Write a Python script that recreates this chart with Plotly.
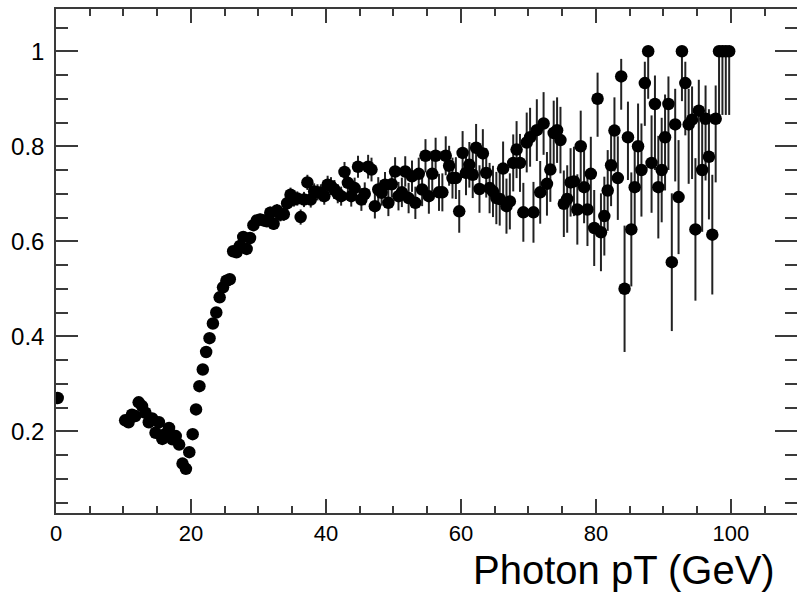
import plotly.graph_objects as go

# Efficiency vs photon pT, 0.5 GeV bins
first_bin_centre = 0.25
first_bin_value = 0.27
first_bin_err = 0.01

bin_start = 10.25
bin_width = 0.5

eff = [
    0.223, 0.219, 0.235, 0.232, 0.261, 0.253, 0.239, 0.219, 0.227, 0.197,   # 10-15
    0.219, 0.184, 0.195, 0.207, 0.183, 0.190, 0.172, 0.132, 0.121, 0.156,   # 15-20
    0.194, 0.246, 0.295, 0.330, 0.367, 0.396, 0.427, 0.450, 0.482, 0.503,   # 20-25
    0.517, 0.520, 0.579, 0.577, 0.590, 0.609, 0.584, 0.607, 0.634, 0.644,   # 25-30
    0.646, 0.644, 0.642, 0.660, 0.637, 0.665, 0.656, 0.657, 0.680, 0.698,   # 30-35
    0.688, 0.690, 0.651, 0.688, 0.724, 0.688, 0.705, 0.703, 0.702, 0.695,   # 35-40
    0.719, 0.716, 0.709, 0.700, 0.695, 0.746, 0.723, 0.695, 0.712, 0.757,   # 40-45
    0.688, 0.700, 0.757, 0.751, 0.674, 0.709, 0.702, 0.719, 0.681, 0.720,   # 45-50
    0.747, 0.695, 0.703, 0.747, 0.691, 0.737, 0.681, 0.742, 0.709, 0.780,   # 50-55
    0.695, 0.742, 0.780, 0.703, 0.703, 0.780, 0.759, 0.733, 0.733, 0.663,   # 55-60
    0.786, 0.744, 0.761, 0.740, 0.797, 0.710, 0.785, 0.744, 0.712, 0.705,   # 60-65
    0.691, 0.689, 0.753, 0.674, 0.684, 0.765, 0.793, 0.765, 0.661, 0.808,   # 65-70
    0.819, 0.661, 0.834, 0.703, 0.848, 0.721, 0.751, 0.828, 0.834, 0.813,   # 70-75
    0.679, 0.689, 0.724, 0.726, 0.667, 0.800, 0.714, 0.667, 0.742, 0.628,   # 75-80
    0.900, 0.619, 0.653, 0.707, 0.760, 0.833, 0.733, 0.947, 0.500, 0.819,   # 80-85
    0.625, 0.714, 0.800, 0.750, 0.933, 1.000, 0.765, 0.889, 0.714, 0.750,   # 85-90
    0.819, 0.889, 0.556, 0.846, 0.693, 1.000, 0.933, 0.846, 0.856, 0.625,   # 90-95
    0.875, 0.750, 0.858, 0.778, 0.614, 0.858, 1.000, 1.000, 1.000, 1.000,   # 95-100
]

err_down = [
    0.008, 0.008, 0.008, 0.008, 0.008, 0.008, 0.008, 0.008, 0.008, 0.008,
    0.008, 0.008, 0.008, 0.008, 0.008, 0.008, 0.008, 0.008, 0.008, 0.008,
    0.008, 0.008, 0.008, 0.008, 0.008, 0.008, 0.008, 0.008, 0.008, 0.009,
    0.009, 0.009, 0.009, 0.009, 0.010, 0.010, 0.010, 0.010, 0.011, 0.011,
    0.012, 0.012, 0.012, 0.013, 0.013, 0.013, 0.014, 0.014, 0.014, 0.015,
    0.015, 0.015, 0.016, 0.016, 0.016, 0.017, 0.017, 0.017, 0.018, 0.018,
    0.019, 0.019, 0.020, 0.020, 0.020, 0.021, 0.021, 0.022, 0.022, 0.023,
    0.024, 0.024, 0.025, 0.025, 0.026, 0.026, 0.027, 0.027, 0.028, 0.028,
    0.030, 0.030, 0.031, 0.032, 0.032, 0.033, 0.034, 0.034, 0.035, 0.035,
    0.037, 0.037, 0.038, 0.039, 0.040, 0.041, 0.042, 0.043, 0.044, 0.045,
    0.046, 0.047, 0.048, 0.049, 0.050, 0.050, 0.051, 0.052, 0.053, 0.054,
    0.055, 0.056, 0.057, 0.058, 0.059, 0.060, 0.060, 0.061, 0.062, 0.063,
    0.062, 0.064, 0.065, 0.066, 0.066, 0.067, 0.068, 0.068, 0.069, 0.070,
    0.070, 0.071, 0.072, 0.073, 0.074, 0.075, 0.076, 0.077, 0.078, 0.080,
    0.080, 0.082, 0.083, 0.085, 0.086, 0.086, 0.088, 0.070, 0.133, 0.090,
    0.120, 0.095, 0.096, 0.098, 0.090, 0.100, 0.105, 0.139, 0.108, 0.110,
    0.112, 0.139, 0.145, 0.120, 0.120, 0.105, 0.110, 0.125, 0.125, 0.150,
    0.128, 0.130, 0.130, 0.132, 0.126, 0.134, 0.134, 0.134, 0.134, 0.134,
]

err_up = [
    0.008, 0.008, 0.008, 0.008, 0.008, 0.008, 0.008, 0.008, 0.008, 0.008,
    0.008, 0.008, 0.008, 0.008, 0.008, 0.008, 0.008, 0.008, 0.008, 0.008,
    0.008, 0.008, 0.008, 0.008, 0.008, 0.008, 0.008, 0.008, 0.008, 0.009,
    0.009, 0.009, 0.009, 0.009, 0.010, 0.010, 0.010, 0.010, 0.011, 0.011,
    0.012, 0.012, 0.012, 0.013, 0.013, 0.013, 0.014, 0.014, 0.014, 0.015,
    0.015, 0.015, 0.016, 0.016, 0.016, 0.017, 0.017, 0.017, 0.018, 0.018,
    0.019, 0.019, 0.020, 0.020, 0.020, 0.021, 0.021, 0.022, 0.022, 0.023,
    0.024, 0.024, 0.025, 0.025, 0.026, 0.026, 0.027, 0.027, 0.028, 0.028,
    0.030, 0.030, 0.031, 0.032, 0.032, 0.033, 0.034, 0.034, 0.035, 0.035,
    0.037, 0.037, 0.038, 0.039, 0.040, 0.041, 0.042, 0.043, 0.044, 0.045,
    0.046, 0.047, 0.048, 0.049, 0.050, 0.050, 0.051, 0.052, 0.053, 0.054,
    0.055, 0.056, 0.057, 0.058, 0.059, 0.060, 0.060, 0.061, 0.062, 0.063,
    0.062, 0.064, 0.065, 0.066, 0.066, 0.067, 0.068, 0.068, 0.069, 0.070,
    0.070, 0.071, 0.072, 0.073, 0.074, 0.075, 0.076, 0.077, 0.078, 0.080,
    0.055, 0.082, 0.083, 0.085, 0.080, 0.070, 0.088, 0.037, 0.133, 0.075,
    0.120, 0.095, 0.090, 0.098, 0.045, 0.000, 0.100, 0.060, 0.108, 0.110,
    0.090, 0.058, 0.145, 0.075, 0.120, 0.000, 0.045, 0.075, 0.070, 0.150,
    0.065, 0.110, 0.070, 0.100, 0.126, 0.070, 0.000, 0.000, 0.000, 0.000,
]

x_ticks = [0, 20, 40, 60, 80, 100]
y_ticks = [0.2, 0.4, 0.6, 0.8, 1.0]
y_tick_text = ["0.2", "0.4", "0.6", "0.8", "1"]
x_title = "Photon pT (GeV)"

xs = [first_bin_centre] + [bin_start + bin_width * i for i in range(len(eff))]
ys = [first_bin_value] + eff
eu = [first_bin_err] + err_up
ed = [first_bin_err] + err_down

axis_color = "#3a3a3a"
font_family = "Liberation Sans, Arial, sans-serif"

fig = go.Figure()
fig.add_trace(go.Scatter(
    x=xs, y=ys, mode="markers",
    marker=dict(symbol="circle", size=12.5, color="black"),
    error_y=dict(type="data", symmetric=False, array=eu, arrayminus=ed,
                 width=0, thickness=2, color="#222222"),
    showlegend=False,
    cliponaxis=True,
))

fig.update_layout(
    template="none",
    width=797, height=595,
    margin=dict(l=56, r=0, t=9, b=82, pad=0),
    paper_bgcolor="white", plot_bgcolor="white",
    font=dict(family=font_family, color="black"),
    xaxis=dict(
        automargin=False,
        range=[0, 109.8], tickvals=x_ticks, ticks="inside", ticklen=14,
        tickwidth=1.5, tickcolor=axis_color,
        showline=True, linecolor=axis_color, linewidth=1.5, mirror="allticks",
        showgrid=False, zeroline=False,
        tickfont=dict(size=22, family=font_family, color="black"),
        minor=dict(dtick=5, tick0=0, ticks="inside", ticklen=7, tickwidth=1.5,
                   tickcolor=axis_color, showgrid=False),
        ticklabelstandoff=0,
    ),
    yaxis=dict(
        automargin=False,
        range=[0.028, 1.089], tickvals=y_ticks, ticktext=y_tick_text,
        ticks="inside", ticklen=22,
        tickwidth=1.5, tickcolor=axis_color,
        showline=True, linecolor=axis_color, linewidth=1.5, mirror="allticks",
        showgrid=False, zeroline=False,
        tickfont=dict(size=24, family=font_family, color="black"),
        minor=dict(dtick=0.05, tick0=0, ticks="inside", ticklen=12, tickwidth=1.5,
                   tickcolor=axis_color, showgrid=False),
        ticklabelstandoff=5,
    ),
    annotations=[dict(
        text=x_title, xref="paper", yref="paper",
        x=(777 - 56) / 741, y=-0.066, xanchor="right", yanchor="top",
        showarrow=False, font=dict(size=40, family=font_family, color="black"),
    )],
)

fig.write_html(
    "out.html",
    config={"displayModeBar": False},
    post_script="document.body.style.margin='0';document.body.style.overflow='hidden';",
)
